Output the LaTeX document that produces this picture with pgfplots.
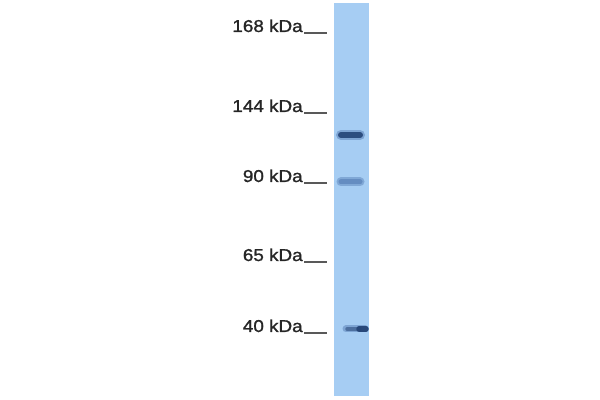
\documentclass[border=0pt]{standalone}
\usepackage{pgfplots}
\pgfplotsset{compat=1.18}
\usepackage{fontspec}
\setmainfont[FakeBold=1.2]{Liberation Sans}

\definecolor{lane}{RGB}{166,205,243}
\definecolor{bandhi}{RGB}{36,68,118}
\definecolor{bandmid}{RGB}{92,132,186}

% 1 image pixel = 0.01in
\begin{document}
\begin{tikzpicture}
\begin{axis}[
    width=6in, height=4in, scale only axis,
    xmin=0, xmax=600, ymin=0, ymax=400,
    y dir=reverse,
    hide axis,
    clip=true
]
% background
\addplot[fill=white, draw=none] coordinates {(0,0) (600,0) (600,400) (0,400)} -- cycle;

% lane
\addplot[fill=lane, draw=none] coordinates {(334,3) (369,3) (369,396) (334,396)} -- cycle;

% marker ticks
\addplot[black!65, line width=0.015in] coordinates {(304,33) (327,33)};
\addplot[black!65, line width=0.015in] coordinates {(304,113) (327,113)};
\addplot[black!65, line width=0.015in] coordinates {(304,183) (327,183)};
\addplot[black!65, line width=0.015in] coordinates {(304,262) (327,262)};
\addplot[black!65, line width=0.015in] coordinates {(304,333) (327,333)};

% band ~ 135
\addplot[bandmid, opacity=0.55, line width=0.10in, line cap=round] coordinates {(341,135) (360,135)};
\addplot[bandhi, opacity=0.9, line width=0.06in, line cap=round] coordinates {(341,135) (360,135)};
% band ~ 182
\addplot[bandmid, opacity=0.5, line width=0.09in, line cap=round] coordinates {(341,182) (360,182)};
\addplot[bandmid, opacity=0.75, line width=0.05in, line cap=round] coordinates {(341,182) (360,182)};
% band ~ 329
\addplot[bandmid, opacity=0.55, line width=0.07in, line cap=round] coordinates {(346,329) (365,329)};
\addplot[bandhi, opacity=0.55, line width=0.035in, line cap=round] coordinates {(347,329) (360,329)};
\addplot[bandhi, opacity=0.95, line width=0.055in, line cap=round] coordinates {(359,329) (366,329)};

% labels
\node[anchor=base east, font=\fontsize{12.4}{14}\selectfont, text=black!85, xscale=1.1, inner sep=0pt] at (axis cs:303,32) {168 kDa};
\node[anchor=base east, font=\fontsize{12.4}{14}\selectfont, text=black!85, xscale=1.1, inner sep=0pt] at (axis cs:303,112) {144 kDa};
\node[anchor=base east, font=\fontsize{12.4}{14}\selectfont, text=black!85, xscale=1.1, inner sep=0pt] at (axis cs:303,182) {90 kDa};
\node[anchor=base east, font=\fontsize{12.4}{14}\selectfont, text=black!85, xscale=1.1, inner sep=0pt] at (axis cs:303,261) {65 kDa};
\node[anchor=base east, font=\fontsize{12.4}{14}\selectfont, text=black!85, xscale=1.1, inner sep=0pt] at (axis cs:303,332) {40 kDa};
\end{axis}
\end{tikzpicture}
\end{document}
